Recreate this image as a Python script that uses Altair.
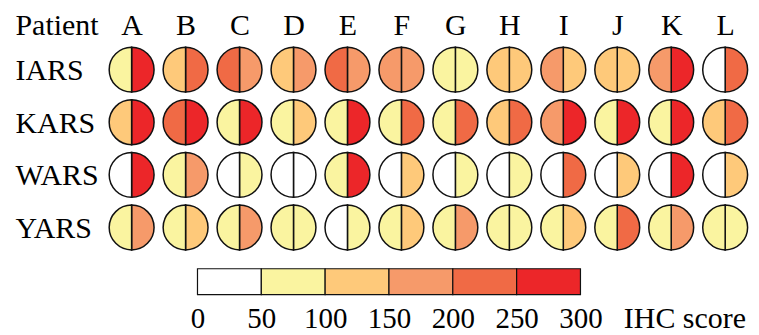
import altair as alt
import pandas as pd

patients = list("ABCDEFGHIJKL")
genes = ["IARS", "KARS", "WARS", "YARS"]

# IHC score (bin mid-points): left and right half of each circle
iars_left = [75, 125, 225, 125, 225, 175, 75, 125, 175, 125, 175, 25]
iars_right = [275, 225, 175, 175, 175, 175, 75, 125, 125, 125, 275, 225]
kars_left = [125, 225, 75, 75, 75, 75, 75, 125, 175, 75, 75, 125]
kars_right = [275, 275, 275, 125, 275, 225, 225, 225, 275, 275, 275, 225]
wars_left = [25, 75, 25, 25, 75, 25, 25, 25, 25, 25, 25, 25]
wars_right = [275, 175, 75, 25, 275, 125, 75, 75, 225, 125, 275, 125]
yars_left = [75, 75, 75, 75, 25, 75, 75, 75, 75, 75, 75, 75]
yars_right = [175, 125, 175, 75, 75, 125, 175, 75, 125, 225, 175, 75]

bin_edges = [0, 50, 100, 150, 200, 250, 300]
bin_colors = ["#FFFFFF", "#FAF4A0", "#FEC97A", "#F69A6A", "#F06A45", "#EC2629"]

left_vals = {"IARS": iars_left, "KARS": kars_left, "WARS": wars_left, "YARS": yars_left}
right_vals = {"IARS": iars_right, "KARS": kars_right, "WARS": wars_right, "YARS": yars_right}

rows = []
for g in genes:
    for i, p in enumerate(patients):
        # right half: angle 0 -> half turn; left half: half turn -> full turn
        rows.append({"gene": g, "patient": p, "side": "right", "t0": 0, "t1": 1, "score": right_vals[g][i]})
        rows.append({"gene": g, "patient": p, "side": "left", "t0": 1, "t1": 2, "score": left_vals[g][i]})
df = pd.DataFrame(rows)

leg = pd.DataFrame({"start": bin_edges[:-1], "end": bin_edges[1:]})

FONT = "Times New Roman, Liberation Serif, serif"
color_scale = alt.Scale(type="threshold", domain=bin_edges[1:-1], range=bin_colors)

W = 646
H = 211

main = alt.Chart(df).mark_arc(radius=22.5, stroke="#111111", strokeWidth=1.5).encode(
    x=alt.X("patient:N", sort=patients,
            scale=alt.Scale(type="point", padding=0.47, align=0.53),
            axis=alt.Axis(orient="top", labelAngle=0, domain=False, ticks=False,
                          labelFont=FONT, labelFontSize=30, labelColor="black",
                          labelBaseline="alphabetic", labelPadding=9,
                          title="Patient", titleFont=FONT, titleFontSize=30,
                          titleFontWeight="normal", titleColor="black",
                          titleAngle=0, titleAlign="left", titleBaseline="alphabetic",
                          titleX=-90, titleY=-9, titleAnchor="start")),
    y=alt.Y("gene:N", sort=genes,
            scale=alt.Scale(paddingInner=0, paddingOuter=0),
            axis=alt.Axis(domain=False, ticks=False, title=None,
                          labelFont=FONT, labelFontSize=30, labelColor="black",
                          labelAlign="left", labelPadding=90, labelBaseline="middle",
                          labelOffset=1)),
    theta=alt.Theta("t0:Q", stack=False,
                    scale=alt.Scale(domain=[0, 2], range=[0, 6.283185307179586])),
    theta2="t1:Q",
    color=alt.Color("score:Q", scale=color_scale, legend=None),
    detail="side:N",
).properties(width=W, height=H)

legend = alt.Chart(leg).mark_rect(stroke="#111111", strokeWidth=1.2).encode(
    x=alt.X("start:Q", scale=alt.Scale(domain=[0, 300], range=[93, 477], nice=False, zero=False),
            axis=alt.Axis(values=bin_edges, domain=False, ticks=False, grid=False,
                          labelFont=FONT, labelFontSize=29, labelColor="black",
                          labelBaseline="alphabetic", labelPadding=33, labelFlush=False,
                          title="IHC score", titleFont=FONT, titleFontSize=30,
                          titleFontWeight="normal", titleColor="black",
                          titleAlign="left", titleBaseline="alphabetic",
                          titleX=520, titleY=33, titleAnchor="start")),
    x2="end:Q",
    color=alt.Color("start:Q", scale=color_scale, legend=None),
).properties(width=W, height=26)

chart = alt.vconcat(main, legend, spacing=14).resolve_scale(
    x="independent", color="shared"
).configure(font=FONT).configure_view(stroke=None).properties(
    padding={"left": 7, "top": 2, "right": 0, "bottom": 0},
    background="white",
)

chart.save("out.html", embed_options={"renderer": "svg", "actions": False})
